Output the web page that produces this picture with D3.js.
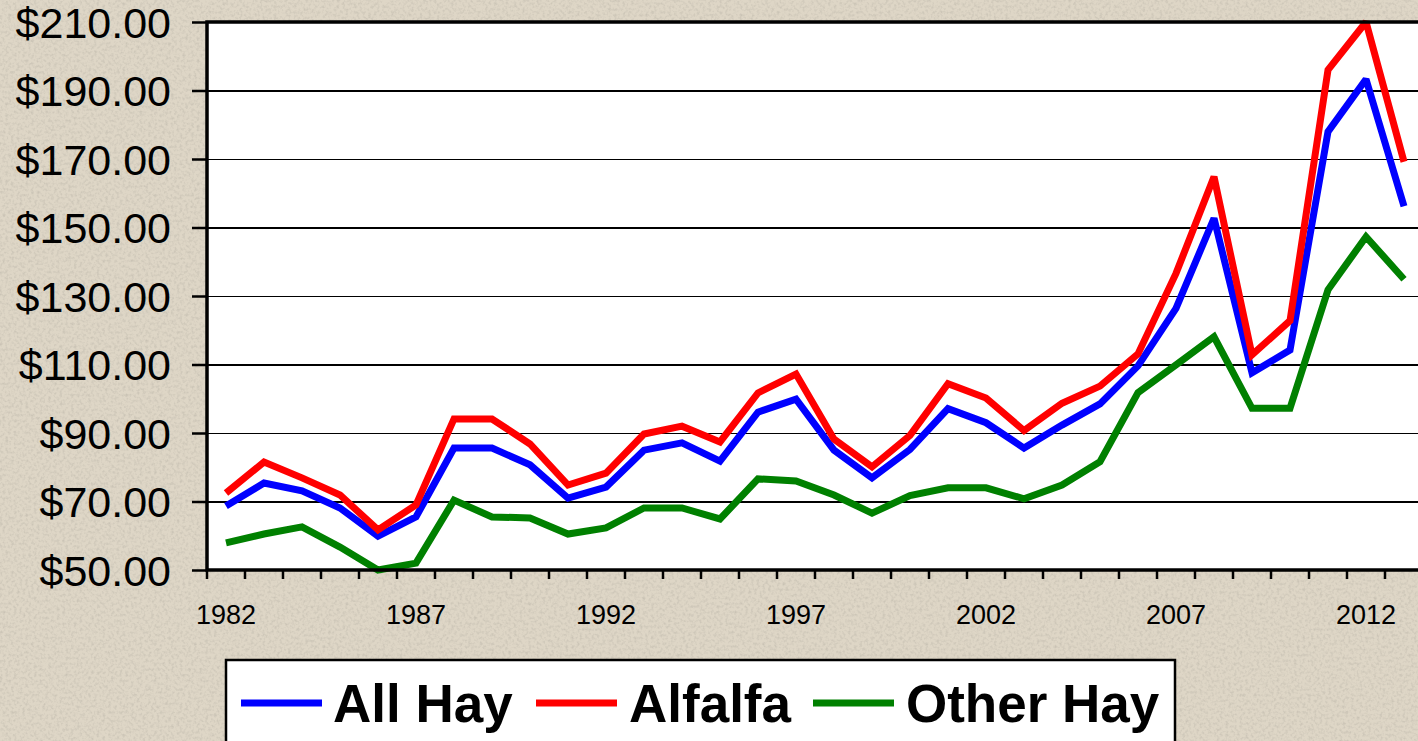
<!DOCTYPE html>
<html>
<head>
<meta charset="utf-8">
<script src="https://cdn.jsdelivr.net/npm/d3@7"></script>
<style>
  html, body { margin: 0; padding: 0; background: #ddd5c5; overflow: hidden; }
  svg { display: block; }
</style>
</head>
<body>
<svg id="chart" width="1418" height="741"></svg>
<script>
// ---- Data ----
const years = d3.range(1982, 2014);
const allHay = [68.7, 75.4, 73.1, 68.1, 59.9, 65.5, 85.6, 85.6, 80.7, 71.0,
                74.2, 85.0, 87.1, 81.8, 96.1, 99.9, 85.0, 76.9, 85.2, 97.1,
                93.0, 85.6, 92.3, 98.5, 109.6, 126.4, 152.7, 107.6, 114.2, 178.0,
                193.3, 156.2];
const alfalfa = [72.5, 81.5, 76.9, 71.9, 61.7, 69.0, 94.1, 94.1, 86.8, 74.8,
                 78.3, 89.7, 92.0, 87.4, 101.7, 107.2, 88.2, 80.1, 89.3, 104.4,
                 100.2, 90.7, 98.7, 103.7, 113.1, 136.6, 164.8, 112.8, 122.8, 196.0,
                 210.0, 169.2];
const otherHay = [57.9, 60.5, 62.6, 56.7, 50.0, 52.0, 70.4, 65.5, 65.2, 60.5,
                  62.3, 68.1, 68.1, 64.9, 76.6, 76.0, 71.9, 66.6, 71.7, 74.0,
                  74.0, 70.8, 74.8, 81.6, 101.8, 109.9, 118.1, 97.2, 97.2, 131.8,
                  147.3, 134.9];
const seriesNames = ["All Hay", "Alfalfa", "Other Hay"];
const seriesColors = ["#0000ff", "#ff0000", "#008000"];
const yTicks = [50, 70, 90, 110, 130, 150, 170, 190, 210];
const xLabelYears = [1982, 1987, 1992, 1997, 2002, 2007, 2012];

const seriesValues = [allHay, alfalfa, otherHay];

(function () {
// ---- Layout ----
const svg = d3.select("#chart");
const W = 1418, H = 741;
const pL = 207, pT = 22, pB = 570;
const step = 38;
const pR = pL + step * years.length;

// background texture
const defs = svg.append("defs");
const f = defs.append("filter").attr("id", "tex").attr("x", 0).attr("y", 0).attr("width", 1).attr("height", 1);
f.append("feTurbulence").attr("type", "fractalNoise").attr("baseFrequency", 0.35).attr("numOctaves", 2).attr("seed", 3).attr("result", "n");
f.append("feColorMatrix").attr("in", "n").attr("type", "matrix")
  .attr("values", "0 0 0 0 0.45  0 0 0 0 0.42  0 0 0 0 0.36  0 0 0 -2.2 1.25").attr("result", "m");
f.append("feComposite").attr("in", "m").attr("in2", "SourceGraphic").attr("operator", "in");
svg.append("rect").attr("width", W).attr("height", H).attr("fill", "#ded6c6");
svg.append("rect").attr("width", W).attr("height", H).attr("fill", "#ded6c6").attr("filter", "url(#tex)").attr("opacity", 0.45);

const x = d3.scaleBand().domain(years).range([pL, pR]).padding(0);
const y = d3.scaleLinear().domain([50, 210]).range([pB, pT]);
const cx = d => x(d) + x.bandwidth() / 2;

// plot area
svg.append("rect").attr("x", pL).attr("y", pT).attr("width", pR - pL).attr("height", pB - pT).attr("fill", "#ffffff");

// gridlines
const grid = svg.append("g").attr("transform", `translate(${pL},0)`)
  .call(d3.axisLeft(y).tickValues(yTicks.slice(1, -1)).tickSize(-(pR - pL)).tickFormat(""));
grid.select(".domain").remove();
grid.selectAll("line").attr("stroke", "#000").attr("stroke-width", 1.2).attr("shape-rendering", "crispEdges");

// y axis
const ya = svg.append("g").attr("transform", `translate(${pL},0)`)
  .call(d3.axisLeft(y).tickValues(yTicks).tickSize(15).tickPadding(21).tickFormat(d3.format("$.2f")));
ya.select(".domain").remove();
ya.selectAll("line").attr("stroke", "#000").attr("stroke-width", 2.5);
ya.selectAll("text").attr("font-family", "'Liberation Sans', Arial, sans-serif").attr("font-size", 43).attr("fill", "#000").attr("dy", "0.36em");

// x axis labels
const xa = svg.append("g").attr("transform", `translate(0,${pB})`)
  .call(d3.axisBottom(x).tickValues(xLabelYears).tickSize(0).tickPadding(54));
xa.select(".domain").remove();
xa.selectAll("text").attr("font-family", "'Liberation Sans', Arial, sans-serif").attr("font-size", 27).attr("fill", "#000").attr("dy", "0");

// x tick marks at category boundaries
svg.append("g").selectAll("line").data(years.concat([null]))
  .join("line")
  .attr("x1", d => d === null ? pR : x(d))
  .attr("x2", d => d === null ? pR : x(d))
  .attr("y1", pB).attr("y2", pB + 9)
  .attr("stroke", "#000").attr("stroke-width", 2.5);

// lines
const line = d3.line().x(d => cx(d.year)).y(d => y(d.value));
const order = [0, 1, 2];
svg.append("g").selectAll("path").data(order).join("path")
  .attr("d", i => line(years.map((yr, k) => ({ year: yr, value: seriesValues[i][k] }))))
  .attr("fill", "none")
  .attr("stroke", i => seriesColors[i])
  .attr("stroke-width", 7)
  .attr("stroke-linejoin", "miter")
  .attr("stroke-miterlimit", 2);

// plot border
svg.append("rect").attr("x", pL).attr("y", pT).attr("width", pR - pL).attr("height", pB - pT)
  .attr("fill", "none").attr("stroke", "#000").attr("stroke-width", 3.5);

// legend
const lg = svg.append("g");
lg.append("rect").attr("x", 226).attr("y", 660).attr("width", 949).attr("height", 120)
  .attr("fill", "#fff").attr("stroke", "#000").attr("stroke-width", 2.5);
const legendLineX = [241, 536, 813];
const legendTextX = [333, 629, 906];
seriesNames.forEach((name, i) => {
  lg.append("line").attr("x1", legendLineX[i]).attr("x2", legendLineX[i] + 81)
    .attr("y1", 703).attr("y2", 703).attr("stroke", seriesColors[i]).attr("stroke-width", 7);
  lg.append("text").attr("x", legendTextX[i]).attr("y", 722)
    .attr("font-family", "'Liberation Sans', Arial, sans-serif").attr("font-weight", "bold")
    .attr("font-size", 53).attr("fill", "#000").text(name);
});
})();
</script>
</body>
</html>
